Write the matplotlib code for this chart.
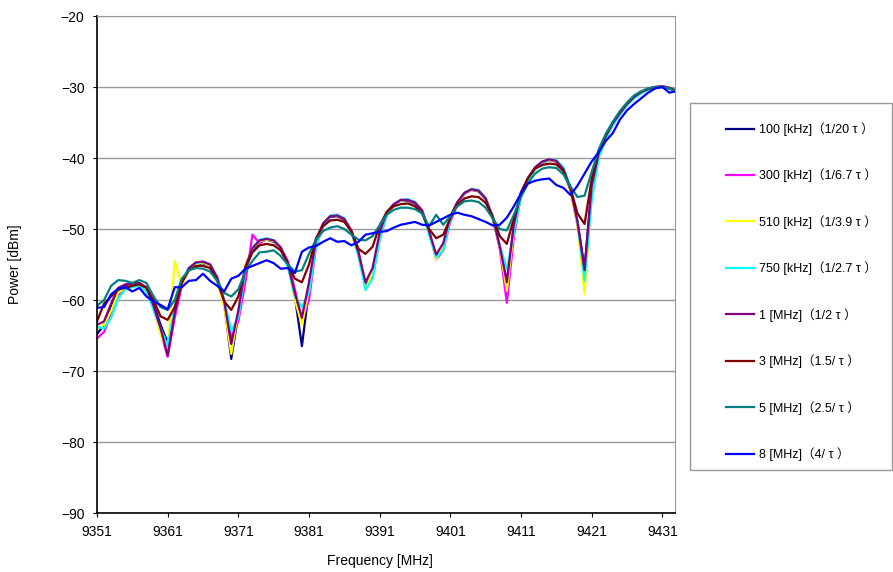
import numpy as np
import matplotlib
matplotlib.use("Agg")
import matplotlib.pyplot as plt
from matplotlib.patches import Rectangle

plt.rcParams['font.family'] = ['Liberation Sans', 'Noto Sans CJK JP', 'DejaVu Sans']

# frequency axis, 1 MHz steps
freq = np.arange(9351, 9434)

# (dBm), 9351 ... 9433
p_100k = [-64.8, -63.5, -61.0, -59.0, -58.0, -57.8, -57.8, -58.3, -60.5, -63.5,
          -66.0, -61.5, -57.5, -55.8, -55.0, -54.8, -55.2, -57.0, -60.5, -68.3,
          -62.0, -55.5, -53.0, -51.8, -51.5, -51.8, -52.8, -55.0, -59.5, -66.5,
          -58.5, -51.5, -49.3, -48.3, -48.2, -48.7, -50.5, -53.5, -58.0, -56.5,
          -51.0, -47.8, -46.6, -46.0, -46.0, -46.4, -47.5, -50.5, -54.0, -52.5,
          -48.5, -46.3, -45.0, -44.5, -44.7, -45.8, -48.5, -52.5, -57.5, -49.5,
          -45.0, -43.0, -41.5, -40.7, -40.3, -40.5, -41.8, -44.5, -49.0, -55.5,
          -44.0, -39.2, -37.0, -35.2, -33.8, -32.5, -31.5, -30.8, -30.3, -30.0,
          -29.9, -30.2, -30.6]
p_300k = [-65.4, -64.5, -62.0, -59.5, -58.2, -58.0, -57.8, -58.5, -61.0, -64.5,
          -68.0, -62.5, -58.0, -55.8, -54.8, -54.6, -55.0, -56.8, -60.0, -65.3,
          -63.0, -57.5, -50.8, -52.0, -51.4, -51.6, -52.6, -54.5, -58.5, -63.0,
          -60.0, -52.5, -49.5, -48.2, -48.0, -48.5, -50.2, -53.0, -58.2, -56.8,
          -51.5, -48.0, -46.5, -45.9, -45.9, -46.2, -47.3, -50.3, -54.3, -53.0,
          -49.0, -46.5, -45.0, -44.4, -44.6, -45.6, -48.3, -52.8, -60.4, -51.0,
          -45.3, -43.0, -41.4, -40.6, -40.2, -40.4, -41.6, -44.3, -49.5, -56.5,
          -45.5, -39.6, -37.2, -35.3, -33.8, -32.5, -31.5, -30.8, -30.3, -30.0,
          -29.9, -30.1, -30.5]
p_510k = [-64.0, -63.5, -61.5, -59.0, -58.3, -58.0, -58.0, -58.5, -61.0, -65.0,
          -67.0, -54.5, -58.0, -55.8, -55.0, -54.7, -55.2, -57.2, -61.0, -67.6,
          -61.5, -55.0, -52.8, -51.7, -51.5, -51.7, -52.8, -55.2, -60.0, -63.5,
          -58.5, -51.8, -49.2, -48.2, -48.1, -48.6, -50.5, -53.8, -58.6, -56.0,
          -50.8, -47.8, -46.6, -46.0, -45.9, -46.3, -47.4, -50.6, -54.3, -52.3,
          -48.3, -46.2, -44.9, -44.5, -44.6, -45.7, -48.4, -52.5, -58.7, -50.0,
          -45.2, -43.0, -41.5, -40.6, -40.3, -40.4, -41.5, -44.4, -49.5, -59.2,
          -45.0, -39.5, -37.0, -35.2, -33.8, -32.5, -31.5, -30.8, -30.3, -30.0,
          -29.9, -30.1, -30.5]
p_750k = [-63.8, -64.0, -62.5, -59.8, -58.5, -58.2, -58.0, -58.8, -61.4, -64.0,
          -66.5, -61.0, -57.2, -55.5, -54.8, -54.6, -55.0, -56.8, -60.0, -64.3,
          -62.5, -55.8, -52.8, -51.5, -51.3, -51.6, -52.7, -55.3, -59.5, -61.0,
          -59.0, -52.5, -49.4, -48.1, -48.0, -48.5, -50.4, -53.8, -58.6, -57.0,
          -51.5, -48.0, -46.6, -45.9, -45.8, -46.2, -47.4, -50.8, -54.0, -53.0,
          -48.7, -46.3, -44.9, -44.4, -44.5, -45.6, -48.3, -52.3, -55.6, -50.5,
          -45.5, -43.2, -41.6, -40.6, -40.2, -40.3, -41.3, -44.0, -49.0, -57.3,
          -46.0, -40.0, -37.3, -35.4, -33.9, -32.6, -31.6, -30.9, -30.4, -30.1,
          -30.0, -30.2, -30.6]
p_1m = [-63.5, -63.0, -60.5, -58.3, -57.8, -57.6, -57.6, -58.2, -60.8, -64.0,
        -67.8, -61.8, -57.6, -55.5, -54.7, -54.6, -55.0, -56.8, -60.2, -66.2,
        -61.5, -55.3, -52.7, -51.6, -51.4, -51.6, -52.6, -54.8, -59.0, -62.5,
        -57.5, -51.5, -49.2, -48.2, -48.1, -48.6, -50.3, -53.3, -57.5, -55.5,
        -50.5, -47.6, -46.5, -45.9, -45.9, -46.3, -47.4, -50.3, -53.6, -52.0,
        -48.2, -46.2, -44.9, -44.4, -44.6, -45.7, -48.3, -52.4, -57.5, -49.3,
        -44.8, -42.8, -41.3, -40.5, -40.2, -40.4, -41.6, -44.3, -49.0, -55.8,
        -44.0, -39.3, -36.9, -35.1, -33.7, -32.4, -31.4, -30.7, -30.2, -30.0,
        -29.9, -30.1, -30.5]
p_3m = [-63.0, -60.5, -59.5, -58.5, -58.3, -58.0, -57.8, -58.3, -60.0, -62.3,
        -62.8, -61.0, -57.5, -55.8, -55.2, -55.2, -55.5, -57.3, -60.2, -61.4,
        -59.5, -55.5, -53.3, -52.3, -52.1, -52.3, -53.0, -54.8, -57.0, -57.5,
        -55.0, -51.3, -49.6, -48.8, -48.7, -49.0, -50.3, -52.8, -53.5, -52.5,
        -49.5, -47.6, -46.8, -46.5, -46.4, -46.8, -47.8, -50.0, -51.3, -50.8,
        -48.5, -46.6, -45.7, -45.4, -45.5, -46.3, -48.2, -51.0, -52.1, -48.5,
        -45.0, -42.8, -41.5, -41.0, -40.8, -40.9, -41.8, -44.2, -47.8, -49.3,
        -43.0, -39.0, -36.8, -35.0, -33.5, -32.3, -31.3, -30.7, -30.3, -30.1,
        -30.0, -30.2, -30.6]
p_5m = [-60.8, -60.0, -58.0, -57.2, -57.3, -57.6, -57.2, -57.6, -59.5, -61.0,
        -61.4, -60.0, -57.0, -55.8, -55.5, -55.6, -56.0, -57.3, -59.0, -59.5,
        -58.5, -56.0, -54.5, -53.3, -53.2, -53.0, -53.8, -55.0, -56.0, -55.8,
        -53.5, -51.5, -50.3, -49.8, -49.6, -50.0, -50.8, -51.5, -51.6, -51.0,
        -49.5, -48.0, -47.3, -47.0, -47.0, -47.2, -47.8, -49.6, -48.0, -49.4,
        -48.2, -46.8, -46.1, -46.0, -46.2, -47.0, -48.5, -50.0, -50.2, -48.0,
        -45.5, -43.5, -42.2, -41.5, -41.3, -41.4, -42.3, -44.0, -45.5, -45.3,
        -42.0, -38.8, -36.6, -34.9, -33.4, -32.2, -31.2, -30.6, -30.2, -30.0,
        -30.0, -30.2, -30.6]
p_8m = [-61.1, -61.0, -59.2, -58.4, -58.2, -58.8, -58.3, -59.5, -60.2, -60.7,
        -61.3, -58.2, -58.2, -57.3, -57.2, -56.3, -57.3, -58.0, -58.8, -57.0,
        -56.6, -55.6, -55.2, -54.8, -54.4, -54.8, -55.6, -55.5, -56.2, -53.2,
        -52.6, -52.4, -51.8, -51.3, -51.8, -51.7, -52.3, -51.8, -50.8, -50.6,
        -50.4, -50.3, -49.8, -49.4, -49.2, -49.0, -49.4, -49.5, -49.0, -48.5,
        -48.0, -47.7, -48.0, -48.2, -48.6, -49.0, -49.5, -49.4, -48.4, -46.8,
        -45.0, -43.6, -43.2, -43.0, -42.9, -43.8, -44.2, -45.2, -43.9, -42.2,
        -40.5, -39.2, -37.6, -36.5, -34.6, -33.3, -32.4, -31.6, -30.8, -30.2,
        -30.0, -30.8, -30.6]

series = [p_100k, p_300k, p_510k, p_750k, p_1m, p_3m, p_5m, p_8m]
labels = ['100 [kHz]（1/20 τ ）', '300 [kHz]（1/6.7 τ ）', '510 [kHz]（1/3.9 τ ）',
          '750 [kHz]（1/2.7 τ ）', '1 [MHz]（1/2 τ ）', '3 [MHz]（1.5/ τ ）',
          '5 [MHz]（2.5/ τ ）', '8 [MHz]（4/ τ ）']
colors = ['#000080', '#FF00FF', '#FFFF00', '#00FFFF', '#800080', '#800000',
          '#008080', '#0000FF']

fig = plt.figure(figsize=(8.93, 5.72), dpi=100)
ax = fig.add_axes([97 / 893, 1 - 513 / 572, 578 / 893, 497 / 572])

for vals, lab, col in zip(series, labels, colors):
    ax.plot(freq, vals, color=col, lw=1.6, label=lab)

ax.set_xlim(9351, 9432.8)
ax.set_ylim(-90, -20)
ax.set_xticks(np.arange(9351, 9432, 10))
ax.set_yticks(np.arange(-90, -19, 10))
ax.yaxis.grid(True, color='#999999', lw=1)
ax.set_axisbelow(True)
ax.tick_params(labelsize=10, length=3, direction='out', pad=6)
for s in ['top', 'right']:
    ax.spines[s].set_color('#999999')
for s in ['left', 'bottom']:
    ax.spines[s].set_color('black')
    ax.spines[s].set_linewidth(1.2)

fig.text(15 / 893, 1 - 264 / 572, 'Power [dBm]', rotation=90, ha='center',
         va='center', fontsize=10)
fig.text(380 / 893, 1 - 561 / 572, 'Frequency [MHz]', ha='center',
         va='center', fontsize=10)

# legend box
fig.patches.append(Rectangle((690 / 893, 1 - 470 / 572), 202 / 893, 367 / 572,
                             transform=fig.transFigure, fill=False,
                             edgecolor='#999999', lw=1))
fig.legend(loc='upper left', bbox_to_anchor=(0.800, 0.806), frameon=False,
           fontsize=9, labelspacing=2.62, handlelength=2.3, handletextpad=0.4)

fig.savefig('out.png', dpi=100)
